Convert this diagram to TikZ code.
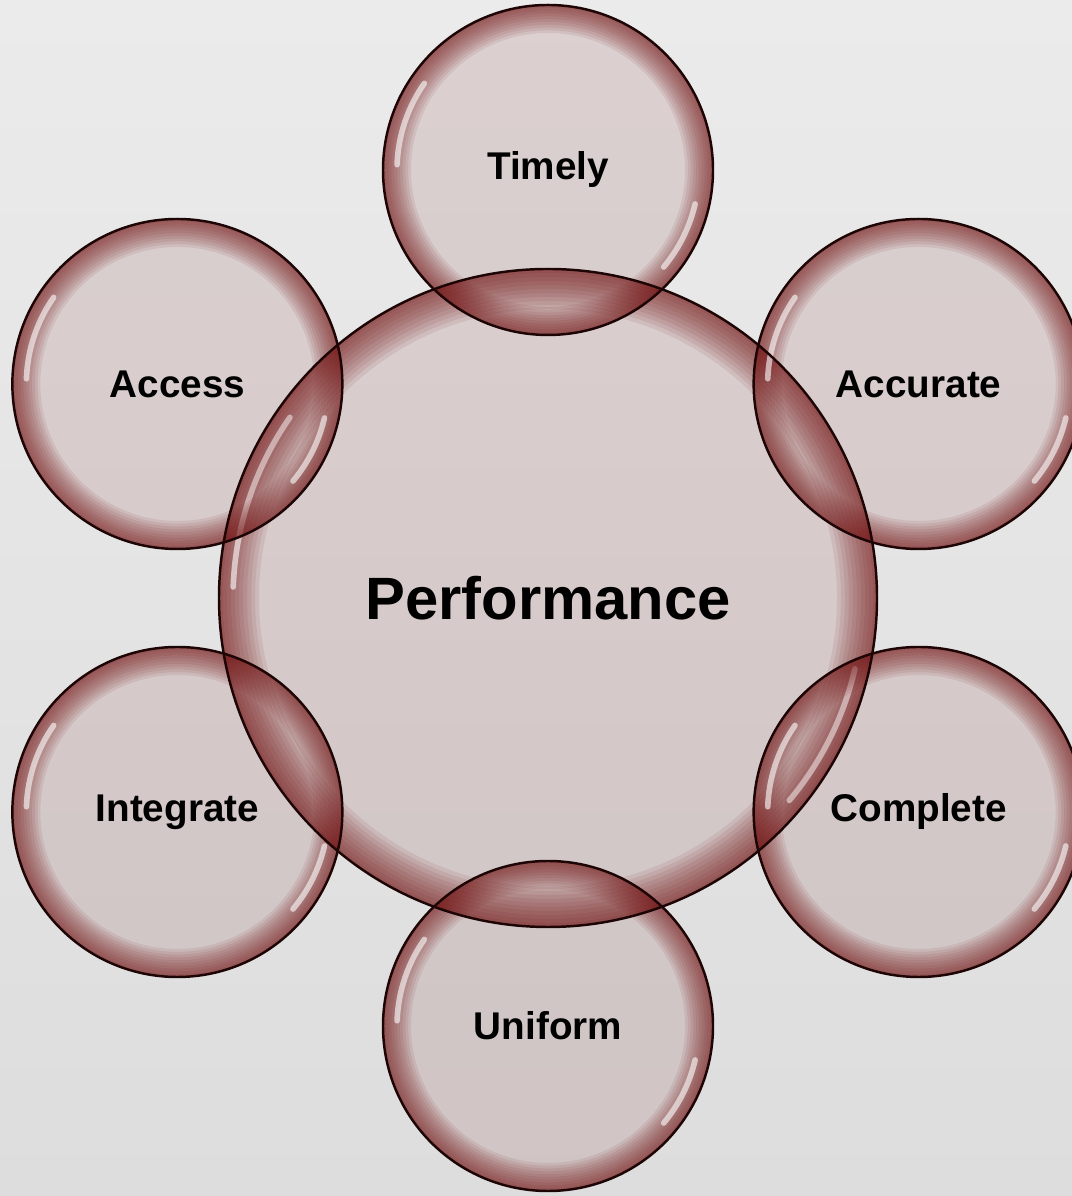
\documentclass[tikz,border=0pt]{standalone}
\usepackage{fontspec}
\setmainfont{Liberation Sans}

\definecolor{papertop}{HTML}{EBEBEB}
\definecolor{paperbot}{HTML}{DDDDDD}
\definecolor{bubblered}{HTML}{741414}
\definecolor{bubbleline}{HTML}{1E0505}

\pgfdeclarelayer{paper}
\pgfdeclarelayer{background}
\pgfsetlayers{paper,background,main}

\begin{document}
\begin{tikzpicture}
  \tikzset{
    bubble/.style={circle,draw=bubbleline,line width=0.7pt,inner sep=0pt,
      minimum size=3.3cm,font=\fontsize{11}{13}\selectfont\bfseries},
    hub/.style={bubble,minimum size=6.58cm,font=\fontsize{17}{20}\selectfont\bfseries},
    glass/.style={fill=bubblered,fill opacity=0.12},
    rim/.style={fill=bubblered,fill opacity=0.09,even odd rule},
    gloss/.style={white,line width=1.6pt,opacity=0.6,line cap=round}
  }

  \begin{pgfonlayer}{paper}
    \shade[top color=papertop,bottom color=paperbot] (0,0) rectangle (10.72,11.96);
  \end{pgfonlayer}
  \useasboundingbox (0,0) rectangle (10.72,11.96);

  \node[hub] (perf) at (5.48,5.98) {Performance};

  \node[bubble] (timely)    at ([shift={(90:4.28)}]perf.center)  {Timely};
  \node[bubble] (accurate)  at ([shift={(30:4.28)}]perf.center)  {Accurate};
  \node[bubble] (access)    at ([shift={(150:4.28)}]perf.center) {Access};
  \node[bubble] (integrate) at ([shift={(210:4.28)}]perf.center) {Integrate};
  \node[bubble] (complete)  at ([shift={(330:4.28)}]perf.center) {Complete};
  \node[bubble] (uniform)   at ([shift={(270:4.28)}]perf.center) {Uniform};

  % tinted glass behind the outlines: rings stacked to darken the rim
  \begin{pgfonlayer}{background}
    \foreach \n/\r/\b in {perf/3.29/0.4,timely/1.65/0.28,accurate/1.65/0.28,
                          access/1.65/0.28,integrate/1.65/0.28,
                          complete/1.65/0.28,uniform/1.65/0.28} {
      \fill[glass] (\n.center) circle[radius=\r];
      \foreach \i in {1,...,10}
        \fill[rim] (\n.center) circle[radius=\r] circle[radius=\r-\i*\b/10];
      \draw[gloss] ([shift={(\n.center)}]145:\r-0.14) arc[start angle=145,end angle=178,radius=\r-0.14];
      \draw[gloss] ([shift={(\n.center)}]-13:\r-0.14) arc[start angle=-13,end angle=-40,radius=\r-0.14];
    }
  \end{pgfonlayer}
\end{tikzpicture}
\end{document}
